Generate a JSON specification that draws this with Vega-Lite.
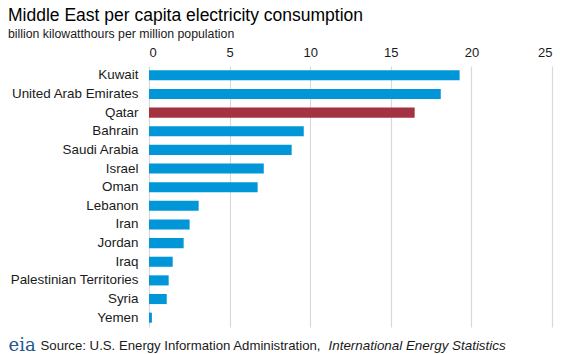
{
  "$schema": "https://vega.github.io/schema/vega-lite/v6.json",
  "width": 403,
  "height": 261,
  "autosize": {"type": "none"},
  "padding": {"left": 149, "top": 66, "right": 12, "bottom": 27},
  "background": "white",
  "config": {
    "view": {"stroke": null},
    "font": "Liberation Sans"
  },
  "title": {
    "text": "Middle East per capita electricity consumption",
    "subtitle": "billion kilowatthours per million population",
    "anchor": "start",
    "frame": "bounds",
    "fontSize": 17.5,
    "fontWeight": "normal",
    "color": "#000000",
    "subtitleFontSize": 12.3,
    "subtitleColor": "#1a1a1a",
    "subtitlePadding": 3,
    "offset": 6
  },
  "data": {
    "values": [
      {"country": "Kuwait", "value": 19.27},
      {"country": "United Arab Emirates", "value": 18.1},
      {"country": "Qatar", "value": 16.48},
      {"country": "Bahrain", "value": 9.6},
      {"country": "Saudi Arabia", "value": 8.85},
      {"country": "Israel", "value": 7.12},
      {"country": "Oman", "value": 6.74},
      {"country": "Lebanon", "value": 3.08},
      {"country": "Iran", "value": 2.52},
      {"country": "Jordan", "value": 2.15},
      {"country": "Iraq", "value": 1.47},
      {"country": "Palestinian Territories", "value": 1.22},
      {"country": "Syria", "value": 1.1},
      {"country": "Yemen", "value": 0.18}
    ]
  },
  "resolve": {"axis": {"x": "independent", "y": "independent"}},
  "layer": [
    {
      "mark": {"type": "bar"},
      "encoding": {
        "y": {
          "field": "country",
          "type": "nominal",
          "sort": null,
          "scale": {"paddingInner": 0.46, "paddingOuter": 0.23},
          "axis": {
            "orient": "left",
            "ticks": false,
            "domain": false,
            "grid": false,
            "labelPadding": 11,
            "labelFontSize": 13.4,
            "labelColor": "#1a1a1a",
            "title": "eia",
            "titleAngle": 0,
            "titleX": -141,
            "titleY": 284,
            "titleAlign": "left",
            "titleBaseline": "alphabetic",
            "titleFont": "DejaVu Serif",
            "titleFontSize": 18,
            "titleFontWeight": "normal",
            "titleColor": "#23578f"
          }
        },
        "x": {
          "field": "value",
          "type": "quantitative",
          "scale": {"domain": [0, 25], "nice": false, "zero": true, "padding": 0},
          "axis": {
            "orient": "top",
            "values": [0, 5, 10, 15, 20, 25],
            "ticks": false,
            "domain": false,
            "grid": true,
            "gridColor": "#d9d9d9",
            "gridWidth": 1.2,
            "labelPadding": 7,
            "labelFontSize": 13,
            "labelColor": "#1a1a1a",
            "title": null
          }
        },
        "color": {
          "condition": {"test": "datum.country === 'Qatar'", "value": "#a43341"},
          "value": "#0096d7"
        }
      }
    },
    {
      "mark": {"type": "bar", "opacity": 0},
      "encoding": {
        "y": {
          "field": "country",
          "type": "nominal",
          "sort": null,
          "axis": {
            "orient": "right",
            "labels": false,
            "ticks": false,
            "domain": false,
            "grid": false,
            "title": "International Energy Statistics",
            "titleAngle": 0,
            "titleX": -224,
            "titleY": 283,
            "titleAlign": "left",
            "titleBaseline": "alphabetic",
            "titleFontSize": 13.4,
            "titleFontWeight": "normal",
            "titleFontStyle": "italic",
            "titleColor": "#1a1a1a"
          }
        },
        "x": {
          "field": "value",
          "type": "quantitative",
          "axis": {
            "orient": "bottom",
            "labels": false,
            "ticks": false,
            "domain": false,
            "grid": false,
            "title": "Source: U.S. Energy Information Administration,",
            "titleX": -109,
            "titleY": 22,
            "titleAnchor": "start",
            "titleAlign": "left",
            "titleBaseline": "alphabetic",
            "titleFontSize": 13.2,
            "titleFontWeight": "normal",
            "titleColor": "#1a1a1a"
          }
        }
      }
    }
  ]
}
